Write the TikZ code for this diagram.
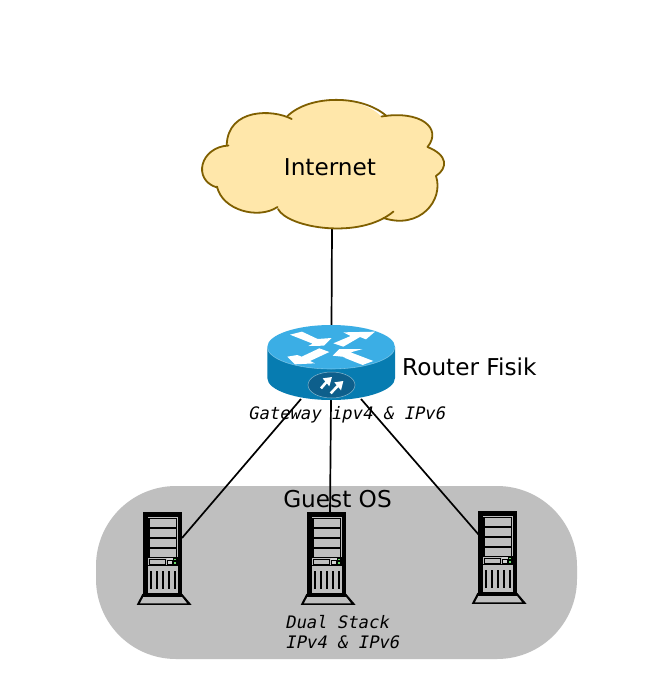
\documentclass[tikz,border=0pt]{standalone}
\usepackage{fontspec}
\setmainfont{DejaVu Sans}
\newfontfamily\monoobl[FakeSlant=0.2]{DejaVu Sans Mono}
\definecolor{guestgray}{HTML}{BFBFBF}
\definecolor{cloudfill}{HTML}{FFE7AA}
\definecolor{cloudline}{HTML}{7F5F00}
\definecolor{routertop}{HTML}{3BAEE5}
\definecolor{routerside}{HTML}{077CB1}
\definecolor{routerface}{HTML}{0E5F8C}
\tikzset{
  biglabel/.style={font=\fontsize{23.2}{27}\selectfont, inner sep=0pt},
  monolabel/.style={font=\monoobl\fontsize{17.2}{20.5}\selectfont, inner sep=0pt, align=left},
  anchorbox/.style={inner sep=0pt, outer sep=0pt, draw=none},
  link/.style={draw=black, line width=1.7pt},
  cloudstroke/.style={draw=cloudline, line width=1.8pt, line cap=round},
  bay/.style={fill=guestgray, draw=black, line width=1.3pt},
}
\newcommand{\serverpic}[2]{%
  \begin{scope}[shift={(#1,#2)}, x=0.3333pt, y=-0.3333pt]
    \fill[black] (52,282) -- (172,282) -- (200,315) -- (35,315) -- cycle;
    \fill[guestgray] (57,287) -- (168,287) -- (186,310) -- (45,310) -- cycle;
    \fill[black] (54,37) rectangle (172,292);
    \fill[guestgray] (70,52) rectangle (158,280);
    \foreach \y in {56,86,116,146}
      \draw[bay] (72,\y) rectangle (155,\y+26);
    \draw[black, line width=.9pt, fill=guestgray] (72,178) rectangle (120,192);
    \fill[black] (125,172) rectangle (158,197);
    \fill[guestgray!70!white] (129,183) rectangle (141,193);
    \fill[guestgray!70!white] (127,175) rectangle (145,179);
    \fill[green!45!guestgray] (148,176) rectangle (154,181);
    \fill[green!45!guestgray] (148,187) rectangle (154,192);
    \fill[black] (70,196) rectangle (158,198);
    \foreach \x in {78,96,113,131,149}
      \draw[black, line width=1.7pt] (\x,213) -- (\x,266);
  \end{scope}%
}
\begin{document}
\begin{tikzpicture}[x=1pt, y=-1pt]
\useasboundingbox (0,0) rectangle (664,686);
\fill[white] (0,0) rectangle (664,686);

% guest area
\node[anchorbox] (guest) at (336.5,572.5) {};
\fill[guestgray, rounded corners=80pt] (96,486) rectangle (577,659);

% anchors
\node[anchorbox, minimum width=240pt, minimum height=130pt] (cloudbox) at (332,164) {};
\node[anchorbox, minimum width=128pt, minimum height=75pt] (routerbox) at (331.5,362.5) {};
\coordinate (rl) at (301,399);
\coordinate (rm) at (331,400);
\coordinate (rr) at (361,399);
\coordinate (sl) at (182,538);
\coordinate (sm) at (330,514);
\coordinate (sr) at (479,535);

% connectors
\draw[link] (cloudbox.south) -- (routerbox.north);
\draw[link] (rl) -- (sl);
\draw[link] (rm) -- (sm);
\draw[link] (rr) -- (sr);

% cloud
\fill[cloudfill]
  (291.7,119) .. controls (273,109) and (228,108) .. (226.7,145)
  .. controls (200,148) and (192,180) .. (217,187.5)
  .. controls (222,210) and (258,220) .. (277.5,207)
  .. controls (288,228) and (360,240) .. (390,213)
  -- (383.5,218)
  .. controls (420,230) and (444,200) .. (436,176)
  .. controls (448,168) and (448,155) .. (427.5,147)
  .. controls (443,128) and (420,110) .. (381.5,116.5)
  .. controls (360,95) and (310,95) .. (287.5,116)
  -- cycle;
\draw[cloudstroke] (291.7,119) .. controls (273,109) and (228,108) .. (226.7,145);
\draw[cloudstroke] (228.5,145.5) .. controls (200,147) and (192,180) .. (217,187.5);
\draw[cloudstroke] (217,186.5) .. controls (222,210) and (258,220) .. (277.5,207);
\draw[cloudstroke] (278,209) .. controls (288,228) and (360,240) .. (393.5,211.5);
\draw[cloudstroke] (383.5,218) .. controls (420,230) and (444,200) .. (436,176);
\draw[cloudstroke] (436,176) .. controls (448,168) and (448,155) .. (427.5,147);
\draw[cloudstroke] (427.5,147) .. controls (443,128) and (420,110) .. (381.5,116.5);
\draw[cloudstroke] (386.5,116) .. controls (362,94.5) and (310,94.5) .. (287.5,116);
\node[biglabel] (internet) at (330,167) {Internet};

% router
\fill[routerside] (267.3,347) -- (267.3,378) arc[start angle=180, end angle=360, x radius=63.85pt, y radius=22pt]
  -- (395,347) -- cycle;
\fill[routertop] (331.15,347) ellipse[x radius=63.85pt, y radius=22pt];
\draw[white, opacity=.35, line width=.6pt] (267.3,347) arc[start angle=180, end angle=360, x radius=63.85pt, y radius=22pt];
\fill[routerface] (331.5,385) ellipse[x radius=23.5pt, y radius=13pt];
\draw[white, opacity=.5, line width=.5pt] (331.5,385) ellipse[x radius=23.5pt, y radius=13pt];
\begin{scope}[shift={(280,325)}, x=0.3333pt, y=-0.3333pt]
  \fill[white] (30,29) -- (66,20) -- (113,42) -- (155,39) -- (132,62) -- (85,63) -- (98,56) -- cycle;
  \fill[white] (160,55) -- (212,33) -- (190,22) -- (285,20) -- (258,43) -- (240,36) -- (190,65) -- cycle;
  \fill[white] (148,81) -- (118,70) -- (65,95) -- (52,90) -- (22,95) -- (45,118) -- (105,115) -- (90,108) -- cycle;
  \fill[white] (158,92) -- (178,72) -- (248,72) -- (212,82) -- (280,108) -- (248,120) -- (190,97) -- (205,97) -- cycle;
  \draw[white, line width=2.6pt] (123,190) -- (142,168);
  \fill[white] (128,160) -- (156,156) -- (148,184) -- cycle;
  \draw[white, line width=2.6pt] (152,205) -- (176,180);
  \fill[white] (163,172) -- (190,168) -- (183,196) -- cycle;
\end{scope}
\node[biglabel, anchor=west] (routerlabel) at (402,366.5) {Router Fisik};
\node[monolabel, anchor=west] (gateway) at (248,415) {Gateway ipv4 \& IPv6};

% guest OS
\node[biglabel] (guestlabel) at (337.5,499.5) {Guest OS};
\serverpic{125}{500}
\serverpic{289}{500}
\serverpic{460}{499}
\node[anchorbox, minimum width=39pt, minimum height=85pt] (serverone) at (162.5,554) {};
\node[anchorbox, minimum width=39pt, minimum height=85pt] (servertwo) at (326.5,554) {};
\node[anchorbox, minimum width=39pt, minimum height=85pt] (serverthree) at (497.5,553) {};
\node[monolabel, anchor=north west] (dual) at (285,615) {Dual Stack\\IPv4 \& IPv6};
\end{tikzpicture}
\end{document}
